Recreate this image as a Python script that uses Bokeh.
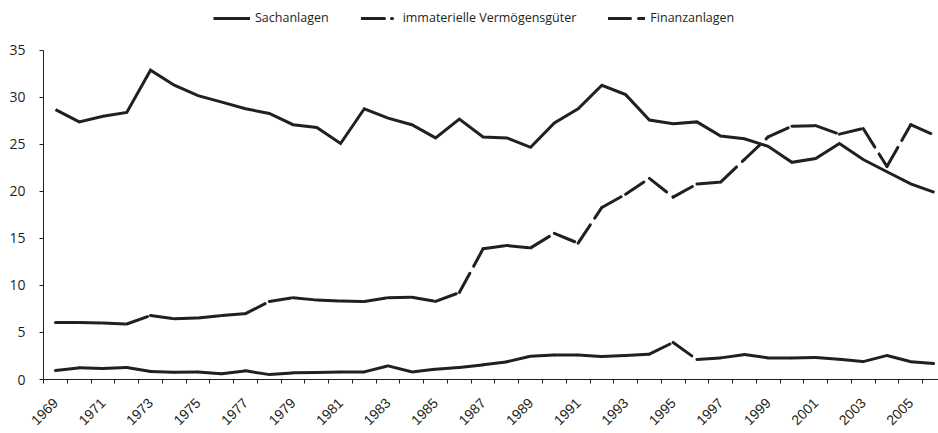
import math
from bokeh.plotting import figure
from bokeh.models import (Range1d, FixedTicker, Legend, LegendItem, ColumnDataSource)
from bokeh.embed import file_html
from bokeh.resources import INLINE

years = list(range(1969, 2007))
sachanlagen = [28.7, 27.4, 28.0, 28.4, 32.9, 31.3, 30.2, 29.5, 28.8, 28.3, 27.1, 26.8,
               25.1, 28.8, 27.8, 27.1, 25.7, 27.7, 25.8, 25.7, 24.7, 27.3, 28.8, 31.3,
               30.3, 27.6, 27.2, 27.4, 25.9, 25.6, 24.8, 23.1, 23.5, 25.1, 23.4, 22.1, 20.8, 19.9]
immaterielle = [0.96, 1.24, 1.17, 1.28, 0.85, 0.78, 0.8, 0.6, 0.92, 0.53, 0.71, 0.75,
                0.81, 0.81, 1.45, 0.81, 1.1, 1.28, 1.56, 1.88, 2.48, 2.6, 2.6, 2.45,
                2.55, 2.7, 3.94, 2.13, 2.3, 2.65, 2.3, 2.3, 2.35, 2.16, 1.9, 2.55, 1.9, 1.7]
finanzanlagen = [6.06, 6.06, 6.0, 5.9, 6.8, 6.45, 6.55, 6.8, 7.0, 8.3, 8.7, 8.45,
                 8.35, 8.3, 8.7, 8.75, 8.3, 9.25, 13.9, 14.25, 14.0, 15.55, 14.5, 18.3,
                 19.7, 21.4, 19.4, 20.8, 21.0, 23.4, 25.8, 26.95, 27.0, 26.1, 26.7, 22.65, 27.1, 26.0]
series_names = ["Sachanlagen", "immaterielle Vermögensgüter", "Finanzanlagen"]
label_years = list(range(1969, 2006, 2))
y_ticks = [0, 5, 10, 15, 20, 25, 30, 35]

INK = "#231f20"

p = figure(width=938, height=433, output_backend="svg", toolbar_location=None,
           x_range=Range1d(1968.495, 2006.17), y_range=Range1d(0, 40.1),
           min_border_left=43, min_border_right=0, min_border_top=2, min_border_bottom=54)
p.outline_line_color = None
p.xgrid.visible = False
p.ygrid.visible = False
p.background_fill_color = "white"
p.border_fill_color = "white"

# Sachanlagen: solid line
r1 = p.line(years, sachanlagen, line_color=INK, line_width=3, line_join="miter")

def seg_source(vals):
    return ColumnDataSource(dict(x0=years[:-1], y0=vals[:-1], x1=years[1:], y1=vals[1:]))

r2 = p.segment("x0", "y0", "x1", "y1", source=seg_source(immaterielle), line_color=INK,
               line_width=3, line_cap="round", line_dash="23 7 1 8")
r3 = p.segment("x0", "y0", "x1", "y1", source=seg_source(finanzanlagen), line_color=INK,
               line_width=3, line_cap="round", line_dash="22 8")

# axes
xa = p.xaxis[0]
xa.ticker = FixedTicker(ticks=label_years, minor_ticks=[y - 0.5 for y in years])
xa.major_tick_line_alpha = 0
xa.major_tick_out = 4
xa.major_tick_in = 0
xa.minor_tick_out = 4
xa.minor_tick_in = 0
xa.minor_tick_line_color = INK
xa.axis_line_color = INK
xa.major_label_orientation = math.pi / 4
xa.major_label_text_font = "Liberation Sans"
xa.major_label_text_font_size = "14px"
xa.major_label_text_color = INK
xa.major_label_standoff = 17

ya = p.yaxis[0]
ya.ticker = FixedTicker(ticks=y_ticks)
ya.bounds = (0, 35)
ya.major_tick_out = 4
ya.major_tick_in = 0
ya.minor_tick_line_alpha = 0
ya.major_tick_line_color = INK
ya.axis_line_color = INK
ya.major_label_text_font = "Open Sans"
ya.major_label_text_font_size = "14px"
ya.major_label_text_color = INK
ya.major_label_standoff = 14

legend = Legend(items=[LegendItem(label=series_names[0], renderers=[r1]),
                       LegendItem(label=series_names[1], renderers=[r2]),
                       LegendItem(label=series_names[2], renderers=[r3])],
                orientation="horizontal", location=(170, 353),
                border_line_alpha=0, background_fill_alpha=0,
                glyph_width=37, glyph_height=14, label_height=14,
                label_standoff=5, spacing=32, padding=0, margin=0,
                label_text_font="Open Sans", label_text_font_size="12.5px",
                label_text_color=INK)
p.add_layout(legend, "center")

open("out.html", "w").write(file_html(p, INLINE))
